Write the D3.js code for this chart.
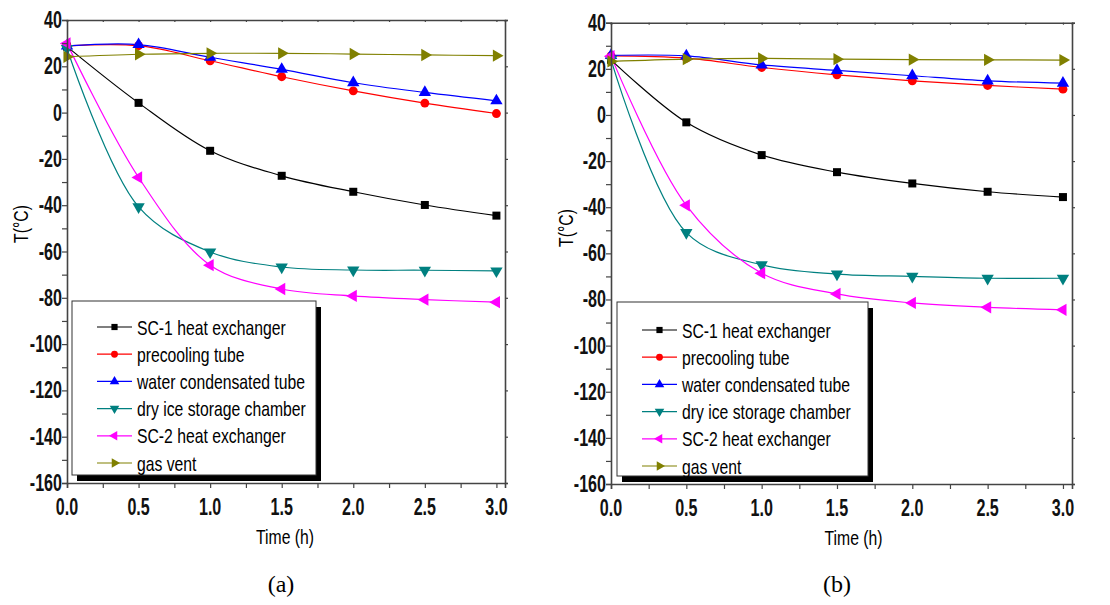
<!DOCTYPE html>
<html>
<head>
<meta charset="utf-8">
<script src="https://cdn.jsdelivr.net/npm/d3@7"></script>
<style>
  body { margin: 0; background: #fff; }
</style>
</head>
<body>
<div id="chart"></div>
<script>
// Time axis (h) shared by both panels
const timeH = [0, 0.5, 1.0, 1.5, 2.0, 2.5, 3.0];
const xTicks = [0, 0.5, 1.0, 1.5, 2.0, 2.5, 3.0];
const yTicks = [40, 20, 0, -20, -40, -60, -80, -100, -120, -140, -160];
const seriesNames = ["SC-1 heat exchanger", "precooling tube", "water condensated tube",
    "dry ice storage chamber", "SC-2 heat exchanger", "gas vent"];

// Panel (a) temperatures, °C
const a_sc1 = [28.5, 4.2, -16.5, -27.3, -34.2, -39.9, -44.5];
const a_precool = [28.8, 28.9, 22.4, 15.5, 9.4, 4.1, -0.4];
const a_water = [28.8, 29.4, 23.9, 18.7, 12.9, 8.7, 5.1];
const a_dryice = [27.7, -40.7, -60.2, -66.7, -68.0, -68.1, -68.4];
const a_sc2 = [29.9, -28.0, -65.9, -76.2, -79.2, -80.8, -81.9];
const a_vent = [24.1, 25.2, 25.6, 25.6, 25.3, 24.9, 24.6];

// Panel (b) temperatures, °C
const b_sc1 = [23.9, -3.2, -17.4, -24.8, -29.7, -33.3, -35.6];
const b_precool = [25.6, 24.6, 20.6, 17.4, 14.8, 12.8, 11.2];
const b_water = [25.8, 25.6, 21.7, 19.3, 17.0, 14.8, 13.8];
const b_dryice = [24.0, -51.0, -65.0, -69.0, -70.0, -70.8, -70.8];
const b_sc2 = [25.5, -39.2, -68.6, -77.6, -81.5, -83.4, -84.5];
const b_vent = [23.2, 24.2, 24.5, 24.2, 24.0, 23.9, 23.8];

// Line colours and marker shapes, in legend order
const colors = ["#000000", "#ff0000", "#0000ff", "#008080", "#ff00ff", "#808000"];
const shapes = [
    { sym: d3.symbolSquare, rot: 0, size: 64 },
    { sym: d3.symbolCircle, rot: 0, size: 62 },
    { sym: d3.symbolTriangle, rot: 0, size: 66 },
    { sym: d3.symbolTriangle, rot: 180, size: 66 },
    { sym: d3.symbolTriangle, rot: -90, size: 66 },
    { sym: d3.symbolTriangle, rot: 90, size: 66 }
];

const SANS = "'Liberation Sans', Arial, Helvetica, sans-serif";
const SERIF = "'Liberation Serif', 'Times New Roman', Times, serif";

const svg = d3.select("#chart").append("svg")
    .attr("width", 1110)
    .attr("height", 605);

// condensed text: the original uses a narrow face, so squeeze Arial horizontally
function narrowText(parent, x, y, str, o) {
    const t = parent.append("g")
        .attr("transform", `translate(${x},${y}) rotate(${o.rot || 0}) scale(${o.sx || 0.8},1)`)
        .append("text")
        .attr("text-anchor", o.anchor || "start")
        .attr("font-size", o.size)
        .attr("font-weight", o.weight || "normal")
        .attr("fill", o.fill || "#000")
        .style("font-family", o.family || SANS)
        .text(str);
    return t;
}

function drawPanel(p) {
    const x = d3.scaleLinear().domain([0, 3.06]).range([p.left, p.right]);
    const y = d3.scaleLinear().domain([-160, 40]).range([p.bottom, p.top]);
    const g = svg.append("g");

    // series lines (smooth) and markers
    p.series.forEach((vals, i) => {
        const pts = timeH.map((t, k) => [t, vals[k]]);
        const line = d3.line()
            .x(d => x(d[0]))
            .y(d => y(d[1]))
            .curve(d3.curveCatmullRom.alpha(0.5));
        g.append("path")
            .datum(pts)
            .attr("fill", "none")
            .attr("stroke", colors[i])
            .attr("stroke-width", 1.2)
            .attr("d", line);
    });
    p.series.forEach((vals, i) => {
        const sh = shapes[i];
        const sym = d3.symbol().type(sh.sym).size(sh.size);
        g.selectAll(null)
            .data(timeH.map((t, k) => [t, vals[k]]))
            .enter()
            .append("path")
            .attr("d", sym)
            .attr("fill", colors[i])
            .attr("transform", d => `translate(${x(d[0])},${y(d[1])}) rotate(${sh.rot})`);
    });

    // axes
    const axisColor = "#444";
    const bottom = g.append("g")
        .attr("transform", `translate(0,${p.bottom})`)
        .call(d3.axisBottom(x).tickValues(d3.range(0, 3.01, 0.25)).tickSize(5).tickFormat(""));
    const left = g.append("g")
        .attr("transform", `translate(${p.left},0)`)
        .call(d3.axisLeft(y).tickValues(d3.range(-160, 41, 10)).tickSize(5).tickFormat(""));
    const top = g.append("g")
        .attr("transform", `translate(0,${p.top})`)
        .call(d3.axisTop(x).tickValues(d3.range(0, 3.01, 0.25)).tickSize(-2).tickFormat(""));
    const right = g.append("g")
        .attr("transform", `translate(${p.right},0)`)
        .call(d3.axisRight(y).tickValues(yTicks).tickSize(3).tickFormat(""));
    [bottom, left, top, right].forEach(ax => {
        ax.select(".domain").attr("stroke", axisColor).attr("stroke-width", 1.6);
        ax.selectAll(".tick line").attr("stroke", axisColor).attr("stroke-width", 1.2);
    });

    // tick labels
    xTicks.forEach(v => {
        narrowText(g, x(v), p.bottom + 32, v.toFixed(1),
            { anchor: "middle", size: 23, weight: "bold", fill: "#111", sx: 0.7 });
    });
    yTicks.forEach(v => {
        narrowText(g, p.left - 5, y(v) + 8, String(v),
            { anchor: "end", size: 23, weight: "bold", fill: "#111", sx: 0.7 });
    });

    // axis titles
    narrowText(g, (p.left + p.right) / 2 + p.titleDx, p.bottom + 61, "Time (h)",
        { anchor: "middle", size: 21, sx: 0.75 });
    narrowText(g, p.yTitleX, p.yTitleY, "T(°C)",
        { anchor: "middle", size: 21, sx: 0.75, rot: -90 });

    // caption
    svg.append("text")
        .attr("x", p.capX)
        .attr("y", 592)
        .attr("text-anchor", "middle")
        .attr("font-size", 24)
        .style("font-family", SERIF)
        .text(p.caption);

    // legend with drop shadow
    const lg = g.append("g").attr("transform", `translate(${p.legX},${p.legY})`);
    lg.append("rect")
        .attr("x", 5).attr("y", 6)
        .attr("width", p.legW).attr("height", 174)
        .attr("fill", "#000");
    lg.append("rect")
        .attr("x", 0).attr("y", 0)
        .attr("width", p.legW).attr("height", 174)
        .attr("fill", "#fff")
        .attr("stroke", "#333")
        .attr("stroke-width", 1);
    seriesNames.forEach((name, i) => {
        const ry = p.legRow0 + i * 27.2;
        lg.append("line")
            .attr("x1", p.legLine).attr("x2", p.legLine + 35)
            .attr("y1", ry).attr("y2", ry)
            .attr("stroke", colors[i]).attr("stroke-width", 1.2);
        const sh = shapes[i];
        lg.append("path")
            .attr("d", d3.symbol().type(sh.sym).size(sh.size * 0.6))
            .attr("fill", colors[i])
            .attr("transform", `translate(${p.legLine + 17.5},${ry}) rotate(${sh.rot})`);
        narrowText(lg, p.legLine + 40, ry + 7.5, name, { size: 21, sx: 0.75 });
    });
}

drawPanel({
    left: 67, right: 505, top: 20, bottom: 483,
    series: [a_sc1, a_precool, a_water, a_dryice, a_sc2, a_vent],
    titleDx: -1, yTitleX: 28, yTitleY: 224,
    capX: 281, caption: "(a)",
    legX: 72, legY: 301, legW: 244, legRow0: 26, legLine: 25
});

drawPanel({
    left: 611, right: 1072, top: 22.7, bottom: 484,
    series: [b_sc1, b_precool, b_water, b_dryice, b_sc2, b_vent],
    titleDx: 12, yTitleX: 573, yTitleY: 228,
    capX: 837, caption: "(b)",
    legX: 617, legY: 302, legW: 251, legRow0: 28, legLine: 25
});
</script>
</body>
</html>
